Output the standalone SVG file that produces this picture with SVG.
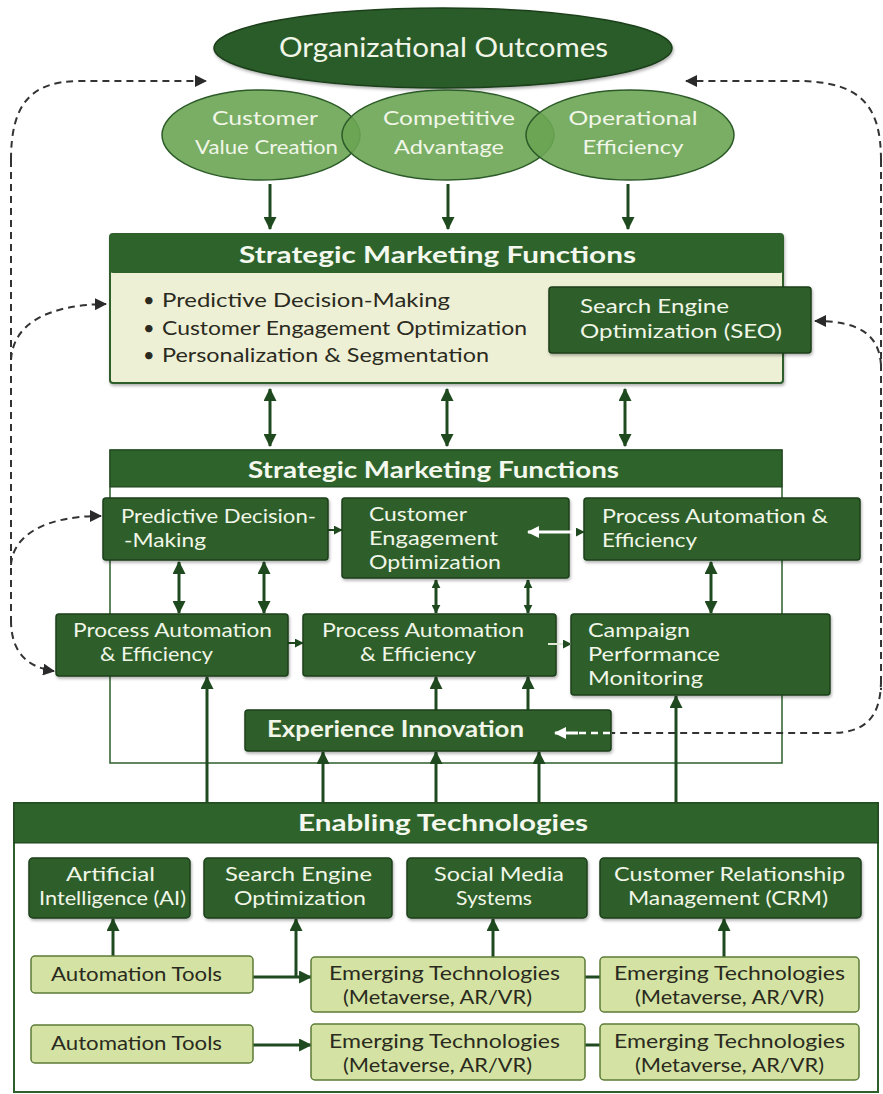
<svg xmlns="http://www.w3.org/2000/svg" width="883" height="1094" viewBox="0 0 883 1094">
<style>
text{font-family:Lato,"Open Sans","Liberation Sans",sans-serif}
.wt{fill:#f1f6e8;font-size:20px}
.wl{fill:#f1f6e8;font-size:20px}
.dk{fill:#2a2a20;font-size:20px}
.hd{fill:#f4f8ee;font-size:23px;font-weight:700}
.box{fill:#2d5f2b;stroke:#1c3f1b;stroke-width:1.5}
.lbox{fill:#d4e3a3;stroke:#5c7b37;stroke-width:1.5}
.ell{fill:#6aa553;fill-opacity:0.9;stroke:#2c5a28;stroke-width:1.5}
.ar{stroke:#1f4a1f;stroke-width:3;fill:none}
.ars{stroke:#1f4a1f;stroke-width:2;fill:none}
.ds{stroke:#333;stroke-width:2;stroke-dasharray:7 5;fill:none}
</style>
<defs>
<filter id="sh" x="-5%" y="-5%" width="110%" height="120%"><feDropShadow dx="1" dy="2" stdDeviation="1.5" flood-color="#000" flood-opacity="0.3"/></filter>
<marker id="a" viewBox="0 0 12 12" refX="11" refY="6" markerWidth="13" markerHeight="13" markerUnits="userSpaceOnUse" orient="auto-start-reverse"><path d="M0,0 L12,6 L0,12 z" fill="#1f4a1f"/></marker>
<marker id="as" viewBox="0 0 12 12" refX="11" refY="6" markerWidth="9" markerHeight="9" markerUnits="userSpaceOnUse" orient="auto-start-reverse"><path d="M0,0 L12,6 L0,12 z" fill="#1f4a1f"/></marker>
<marker id="ad" viewBox="0 0 12 12" refX="11" refY="6" markerWidth="12" markerHeight="12" markerUnits="userSpaceOnUse" orient="auto"><path d="M0,0 L12,6 L0,12 z" fill="#2a2a2a"/></marker>
<marker id="aw" viewBox="0 0 12 12" refX="11" refY="6" markerWidth="12" markerHeight="12" markerUnits="userSpaceOnUse" orient="auto"><path d="M0,0 L12,6 L0,12 z" fill="#ffffff"/></marker>
</defs>
<rect width="883" height="1094" fill="#ffffff"/>

<g id="smf2-frame">
<rect x="110" y="450" width="672" height="313" fill="none" stroke="#2d5f2b" stroke-width="1.5"/>
</g>

<g id="connectors">
<path class="ds" d="M11 160 C11 105 30 81 80 81 L206 81" marker-end="url(#ad)"/>
<path class="ds" d="M11 160 L11 625"/>
<path class="ds" d="M11 360 C13 325 45 305 106 304" marker-end="url(#ad)"/>
<path class="ds" d="M11 565 C13 535 45 516 101 516" marker-end="url(#ad)"/>
<path class="ds" d="M11 620 C11 650 25 667 54 671" marker-end="url(#ad)"/>
<path class="ds" d="M881 160 C881 105 860 82 800 81 L686 81" marker-end="url(#ad)"/>
<path class="ds" d="M881 160 L881 690"/>
<path class="ds" d="M881 365 C879 335 860 321 815 321" marker-end="url(#ad)"/>
<path class="ds" d="M881 680 C881 718 865 733 830 733 L612 733"/>
<line class="ar" x1="270" y1="184" x2="270" y2="229" marker-end="url(#a)"/>
<line class="ar" x1="448" y1="184" x2="448" y2="229" marker-end="url(#a)"/>
<line class="ar" x1="628" y1="184" x2="628" y2="229" marker-end="url(#a)"/>
<line class="ar" x1="270" y1="389" x2="270" y2="446" marker-start="url(#a)" marker-end="url(#a)"/>
<line class="ar" x1="447" y1="389" x2="447" y2="446" marker-start="url(#a)" marker-end="url(#a)"/>
<line class="ar" x1="625" y1="389" x2="625" y2="446" marker-start="url(#a)" marker-end="url(#a)"/>
<line class="ar" x1="179" y1="562" x2="179" y2="613" marker-start="url(#a)" marker-end="url(#a)"/>
<line class="ar" x1="264" y1="562" x2="264" y2="613" marker-start="url(#a)" marker-end="url(#a)"/>
<line class="ar" x1="436" y1="580" x2="436" y2="613" marker-start="url(#as)" marker-end="url(#as)"/>
<line class="ar" x1="528" y1="580" x2="528" y2="613" marker-start="url(#as)" marker-end="url(#as)"/>
<line class="ar" x1="711" y1="562" x2="711" y2="613" marker-start="url(#a)" marker-end="url(#a)"/>
<line class="ars" x1="328" y1="530" x2="342" y2="530" marker-end="url(#as)"/>
<line class="ars" x1="288" y1="643" x2="303" y2="643" marker-end="url(#as)"/>
<line class="ar" x1="207" y1="803" x2="207" y2="677" marker-end="url(#a)"/>
<line class="ar" x1="323" y1="803" x2="323" y2="752" marker-end="url(#a)"/>
<line class="ar" x1="436" y1="803" x2="436" y2="752" marker-end="url(#a)"/>
<line class="ar" x1="539" y1="803" x2="539" y2="752" marker-end="url(#a)"/>
<line class="ar" x1="676" y1="803" x2="676" y2="696" marker-end="url(#a)"/>
<line class="ar" x1="436" y1="711" x2="436" y2="677" marker-end="url(#a)"/>
<line class="ar" x1="528" y1="711" x2="528" y2="677" marker-end="url(#a)"/>
<line class="ar" x1="113" y1="956" x2="113" y2="919" marker-end="url(#a)"/>
<path class="ar" d="M296 977 L296 919" marker-end="url(#a)"/>
<line class="ar" x1="253" y1="977" x2="311" y2="977" marker-end="url(#a)"/>
<line class="ar" x1="493" y1="957" x2="493" y2="919" marker-end="url(#a)"/>
<line class="ar" x1="724" y1="957" x2="724" y2="919" marker-end="url(#a)"/>
<line class="ar" x1="585" y1="977" x2="600" y2="977"/>
<line class="ar" x1="253" y1="1045" x2="311" y2="1045" marker-end="url(#a)"/>
<line class="ar" x1="585" y1="1045" x2="600" y2="1045"/>
</g>

<g id="org-outcomes">
<ellipse cx="443" cy="48" rx="229" ry="40" fill="#2b5c29" stroke="#1c3f1b" stroke-width="1.5" filter="url(#sh)"/>
<text x="443.5" y="57" text-anchor="middle" fill="#f1f6e8" font-size="27" textLength="329" lengthAdjust="spacingAndGlyphs">Organizational Outcomes</text>
</g>
<g id="customer-value">
<ellipse class="ell" cx="261" cy="135" rx="99" ry="45"/>
<text class="wt" x="265" y="125" text-anchor="middle" textLength="106" lengthAdjust="spacingAndGlyphs">Customer</text>
<text class="wt" x="266.5" y="154" text-anchor="middle" textLength="143" lengthAdjust="spacingAndGlyphs">Value Creation</text>
</g>
<g id="competitive-advantage">
<ellipse class="ell" cx="448" cy="135" rx="106" ry="45"/>
<text class="wt" x="449" y="125" text-anchor="middle" textLength="132" lengthAdjust="spacingAndGlyphs">Competitive</text>
<text class="wt" x="449" y="154" text-anchor="middle" textLength="110" lengthAdjust="spacingAndGlyphs">Advantage</text>
</g>
<g id="operational-efficiency">
<ellipse class="ell" cx="630" cy="135" rx="104" ry="45"/>
<text class="wt" x="633" y="125" text-anchor="middle" textLength="129" lengthAdjust="spacingAndGlyphs">Operational</text>
<text class="wt" x="633" y="154" text-anchor="middle" textLength="101" lengthAdjust="spacingAndGlyphs">Efficiency</text>
</g>

<g id="smf1">
<rect x="110" y="234" width="673" height="149" rx="3" fill="#eef0d6" stroke="#2d5f2b" stroke-width="2" filter="url(#sh)"/>
<rect x="110" y="234" width="673" height="39" rx="3" fill="#2e642c"/>
<text class="hd" x="437.5" y="263" text-anchor="middle" font-size="24" textLength="397" lengthAdjust="spacingAndGlyphs">Strategic Marketing Functions</text>
<text class="dk" x="143" y="307">•</text>
<text class="dk" x="162" y="307" textLength="288" lengthAdjust="spacingAndGlyphs">Predictive Decision-Making</text>
<text class="dk" x="143" y="335">•</text>
<text class="dk" x="162" y="335" textLength="365" lengthAdjust="spacingAndGlyphs">Customer Engagement Optimization</text>
<text class="dk" x="143" y="362">•</text>
<text class="dk" x="162" y="362" textLength="327" lengthAdjust="spacingAndGlyphs">Personalization &amp; Segmentation</text>
</g>
<g id="seo-strategic">
<rect class="box" x="549" y="287" width="262" height="66" rx="3" filter="url(#sh)"/>
<text class="wl" x="580" y="313" textLength="149" lengthAdjust="spacingAndGlyphs">Search Engine</text>
<text class="wl" x="580" y="338" textLength="202" lengthAdjust="spacingAndGlyphs">Optimization (SEO)</text>
</g>

<g id="smf2">
<rect x="110" y="450" width="672" height="37" fill="#2e642c" stroke="#1c3f1b" stroke-width="1"/>
<text class="hd" x="433.5" y="478" text-anchor="middle" textLength="371" lengthAdjust="spacingAndGlyphs">Strategic Marketing Functions</text>
</g>
<g id="predictive">
<rect class="box" x="103" y="498" width="225" height="62" rx="3" filter="url(#sh)"/>
<text class="wl" x="121" y="523" textLength="195" lengthAdjust="spacingAndGlyphs">Predictive Decision-</text>
<text class="wl" x="124" y="547" textLength="82" lengthAdjust="spacingAndGlyphs">-Making</text>
</g>
<g id="customer-engagement">
<rect class="box" x="342" y="498" width="227" height="80" rx="3" filter="url(#sh)"/>
<text class="wl" x="369" y="521" textLength="98" lengthAdjust="spacingAndGlyphs">Customer</text>
<text class="wl" x="369" y="545" textLength="129" lengthAdjust="spacingAndGlyphs">Engagement</text>
<text class="wl" x="369" y="569" textLength="132" lengthAdjust="spacingAndGlyphs">Optimization</text>
</g>
<g id="process-automation-top">
<rect class="box" x="584" y="498" width="276" height="62" rx="3" filter="url(#sh)"/>
<text class="wl" x="602" y="523" textLength="226" lengthAdjust="spacingAndGlyphs">Process Automation &amp;</text>
<text class="wl" x="602" y="547" textLength="95" lengthAdjust="spacingAndGlyphs">Efficiency</text>
</g>
<g id="process-automation-left">
<rect class="box" x="56" y="614" width="232" height="62" rx="3" filter="url(#sh)"/>
<text class="wl" x="73" y="637" textLength="199" lengthAdjust="spacingAndGlyphs">Process Automation</text>
<text class="wl" x="100" y="661" textLength="113" lengthAdjust="spacingAndGlyphs">&amp; Efficiency</text>
</g>
<g id="process-automation-mid">
<rect class="box" x="303" y="614" width="253" height="62" rx="3" filter="url(#sh)"/>
<text class="wl" x="322" y="637" textLength="202" lengthAdjust="spacingAndGlyphs">Process Automation</text>
<text class="wl" x="360" y="661" textLength="116" lengthAdjust="spacingAndGlyphs">&amp; Efficiency</text>
</g>
<g id="campaign">
<rect class="box" x="571" y="614" width="259" height="81" rx="3" filter="url(#sh)"/>
<text class="wl" x="588" y="637" textLength="102" lengthAdjust="spacingAndGlyphs">Campaign</text>
<text class="wl" x="588" y="661" textLength="132" lengthAdjust="spacingAndGlyphs">Performance</text>
<text class="wl" x="588" y="685" textLength="115" lengthAdjust="spacingAndGlyphs">Monitoring</text>
</g>
<g id="experience-innovation">
<rect class="box" x="245" y="710" width="366" height="41" rx="3" filter="url(#sh)"/>
<text x="267" y="737" fill="#f1f6e8" font-size="22" font-weight="700" textLength="257" lengthAdjust="spacingAndGlyphs">Experience Innovation</text>
</g>

<g id="inner-connectors">
<line x1="582" y1="532" x2="528" y2="532" stroke="#ffffff" stroke-width="3" marker-end="url(#aw)"/>
<line x1="576" y1="532" x2="584" y2="532" stroke="#1f4a1f" stroke-width="2" marker-end="url(#as)"/>
<line x1="548" y1="644" x2="571" y2="644" stroke="#dfe8d5" stroke-width="2" marker-end="url(#as)"/>
<line x1="610" y1="733" x2="574" y2="733" stroke="#ffffff" stroke-width="2.5" stroke-dasharray="7 5"/>
<line x1="578" y1="733" x2="555" y2="733" stroke="#ffffff" stroke-width="3" marker-end="url(#aw)"/>
</g>

<g id="enabling">
<rect x="14" y="803" width="864" height="289" fill="none" stroke="#2d5f2b" stroke-width="2"/>
<rect x="14" y="803" width="864" height="40" fill="#2e642c" stroke="#1c3f1b" stroke-width="1"/>
<text class="hd" x="443" y="831" text-anchor="middle" font-size="24" textLength="290" lengthAdjust="spacingAndGlyphs">Enabling Technologies</text>
</g>
<g id="ai">
<rect class="box" x="29" y="858" width="161" height="60" rx="4" filter="url(#sh)"/>
<text class="wt" x="110.5" y="881" text-anchor="middle" textLength="89" lengthAdjust="spacingAndGlyphs">Artificial</text>
<text class="wt" x="112.5" y="905" text-anchor="middle" textLength="147" lengthAdjust="spacingAndGlyphs">Intelligence (AI)</text>
</g>
<g id="seo-tech">
<rect class="box" x="204" y="858" width="188" height="60" rx="4" filter="url(#sh)"/>
<text class="wt" x="298.5" y="881" text-anchor="middle" textLength="147" lengthAdjust="spacingAndGlyphs">Search Engine</text>
<text class="wt" x="300" y="905" text-anchor="middle" textLength="132" lengthAdjust="spacingAndGlyphs">Optimization</text>
</g>
<g id="social-media">
<rect class="box" x="407" y="858" width="180" height="60" rx="4" filter="url(#sh)"/>
<text class="wt" x="499" y="881" text-anchor="middle" textLength="130" lengthAdjust="spacingAndGlyphs">Social Media</text>
<text class="wt" x="494" y="905" text-anchor="middle" textLength="76" lengthAdjust="spacingAndGlyphs">Systems</text>
</g>
<g id="crm">
<rect class="box" x="600" y="858" width="261" height="60" rx="4" filter="url(#sh)"/>
<text class="wt" x="729.5" y="881" text-anchor="middle" textLength="231" lengthAdjust="spacingAndGlyphs">Customer Relationship</text>
<text class="wt" x="728" y="905" text-anchor="middle" textLength="200" lengthAdjust="spacingAndGlyphs">Management (CRM)</text>
</g>
<g id="automation-tools-1">
<rect class="lbox" x="31" y="956" width="222" height="37" rx="4"/>
<text class="dk" x="136.5" y="981" text-anchor="middle" textLength="171" lengthAdjust="spacingAndGlyphs">Automation Tools</text>
</g>
<g id="emerging-1">
<rect class="lbox" x="311" y="957" width="274" height="55" rx="4"/>
<text class="dk" x="444.5" y="980" text-anchor="middle" textLength="231" lengthAdjust="spacingAndGlyphs">Emerging Technologies</text>
<text class="dk" x="437.5" y="1004" text-anchor="middle" textLength="189" lengthAdjust="spacingAndGlyphs">(Metaverse, AR/VR)</text>
</g>
<g id="emerging-2">
<rect class="lbox" x="600" y="957" width="259" height="55" rx="4"/>
<text class="dk" x="729.5" y="980" text-anchor="middle" textLength="231" lengthAdjust="spacingAndGlyphs">Emerging Technologies</text>
<text class="dk" x="729.5" y="1004" text-anchor="middle" textLength="189" lengthAdjust="spacingAndGlyphs">(Metaverse, AR/VR)</text>
</g>
<g id="automation-tools-2">
<rect class="lbox" x="31" y="1025" width="222" height="38" rx="4"/>
<text class="dk" x="136.5" y="1050" text-anchor="middle" textLength="171" lengthAdjust="spacingAndGlyphs">Automation Tools</text>
</g>
<g id="emerging-3">
<rect class="lbox" x="311" y="1024" width="274" height="56" rx="4"/>
<text class="dk" x="444.5" y="1048" text-anchor="middle" textLength="231" lengthAdjust="spacingAndGlyphs">Emerging Technologies</text>
<text class="dk" x="437.5" y="1072" text-anchor="middle" textLength="189" lengthAdjust="spacingAndGlyphs">(Metaverse, AR/VR)</text>
</g>
<g id="emerging-4">
<rect class="lbox" x="600" y="1024" width="259" height="56" rx="4"/>
<text class="dk" x="729.5" y="1048" text-anchor="middle" textLength="231" lengthAdjust="spacingAndGlyphs">Emerging Technologies</text>
<text class="dk" x="729.5" y="1072" text-anchor="middle" textLength="189" lengthAdjust="spacingAndGlyphs">(Metaverse, AR/VR)</text>
</g>
</svg>
